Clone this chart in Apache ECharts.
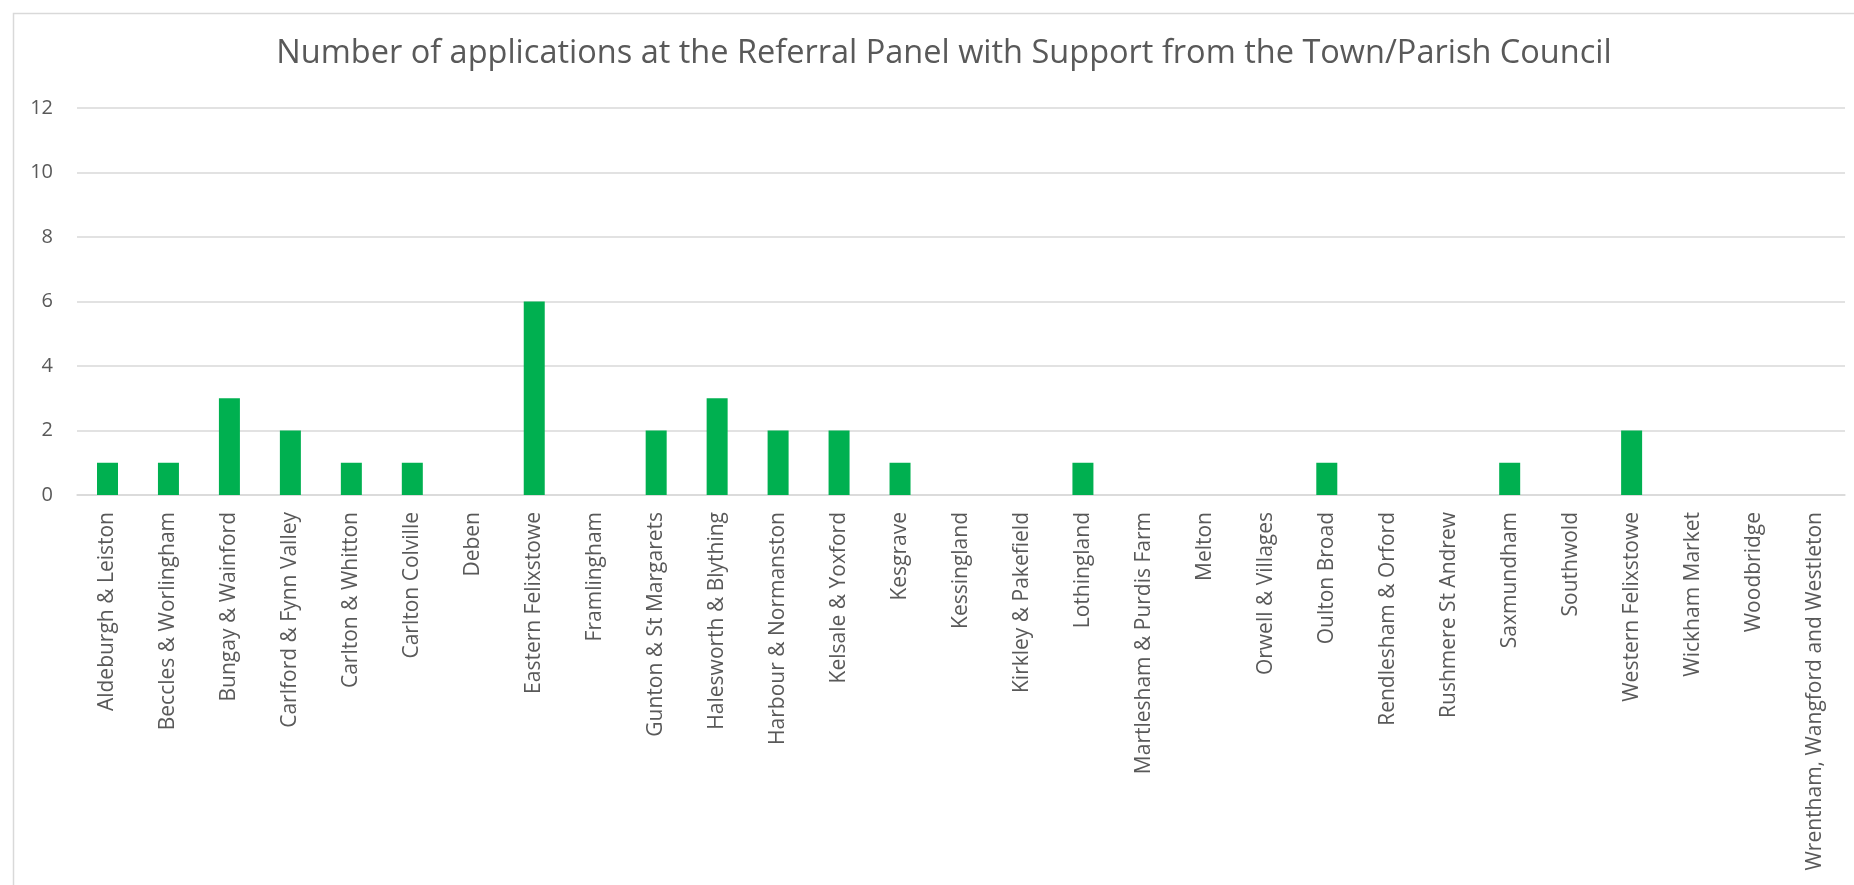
<!DOCTYPE html>
<html>
<head>
<meta charset="utf-8">
<style>
  html, body { margin: 0; padding: 0; background: #ffffff; }
  #chart { width: 1854px; height: 885px; }
</style>
<script src="https://cdn.jsdelivr.net/npm/echarts@6/dist/echarts.min.js"></script>
</head>
<body>
<div id="chart"></div>
<script>
// Referral Panel applications supported by the Town/Parish Council, per ward
const titleText = 'Number of applications at the Referral Panel with Support from the Town/Parish Council';

const wards = [
  'Aldeburgh & Leiston', 'Beccles & Worlingham', 'Bungay & Wainford', 'Carlford & Fynn Valley',
  'Carlton & Whitton', 'Carlton Colville', 'Deben', 'Eastern Felixstowe', 'Framlingham',
  'Gunton & St Margarets', 'Halesworth & Blything', 'Harbour & Normanston', 'Kelsale & Yoxford',
  'Kesgrave', 'Kessingland', 'Kirkley & Pakefield', 'Lothingland', 'Martlesham & Purdis Farm',
  'Melton', 'Orwell & Villages', 'Oulton Broad', 'Rendlesham & Orford', 'Rushmere St Andrew',
  'Saxmundham', 'Southwold', 'Western Felixstowe', 'Wickham Market', 'Woodbridge',
  'Wrentham, Wangford and Westleton'
];

const applications = [
  1, 1, 3, 2,
  1, 1, 0, 6, 0,
  2, 3, 2, 2,
  1, 0, 0, 1, 0,
  0, 0, 1, 0, 0,
  1, 0, 2, 0, 0,
  0
];

const yMin = 0;
const yMax = 12;
const yStep = 2;

const chart = echarts.init(document.getElementById('chart'), null, { renderer: 'canvas' });

const font = '"Open Sans", "Noto Sans", sans-serif';
const textGrey = '#595959';
const lineGrey = '#d9d9d9';

chart.setOption({
  backgroundColor: '#ffffff',
  animation: false,
  textStyle: { fontFamily: font },
  graphic: [{
    type: 'rect',
    silent: true,
    shape: { x: 13.5, y: 13.5, width: 1900, height: 1000 },
    style: { fill: 'none', stroke: lineGrey, lineWidth: 1.5 }
  }],
  title: {
    text: titleText,
    left: 939,
    top: 32,
    textAlign: 'center',
    textStyle: {
      fontFamily: font,
      fontSize: 32.5,
      fontWeight: 'normal',
      color: textGrey
    }
  },
  grid: {
    left: 77,
    right: 9,
    top: 108,
    bottom: 390,
    containLabel: false
  },
  xAxis: {
    type: 'category',
    data: wards,
    axisLine: { show: true, lineStyle: { color: lineGrey, width: 1.5 } },
    axisTick: { show: false },
    axisLabel: {
      interval: 0,
      rotate: 90,
      margin: 17,
      fontFamily: font,
      fontSize: 21,
      color: textGrey
    }
  },
  yAxis: {
    type: 'value',
    min: yMin,
    max: yMax,
    interval: yStep,
    axisLine: { show: false },
    axisTick: { show: false },
    splitLine: { lineStyle: { color: lineGrey, width: 1.5 } },
    axisLabel: {
      margin: 24,
      fontFamily: font,
      fontSize: 20,
      color: textGrey
    }
  },
  series: [{
    type: 'bar',
    data: applications,
    barWidth: 21,
    itemStyle: { color: '#00b050' }
  }]
});
</script>
</body>
</html>
